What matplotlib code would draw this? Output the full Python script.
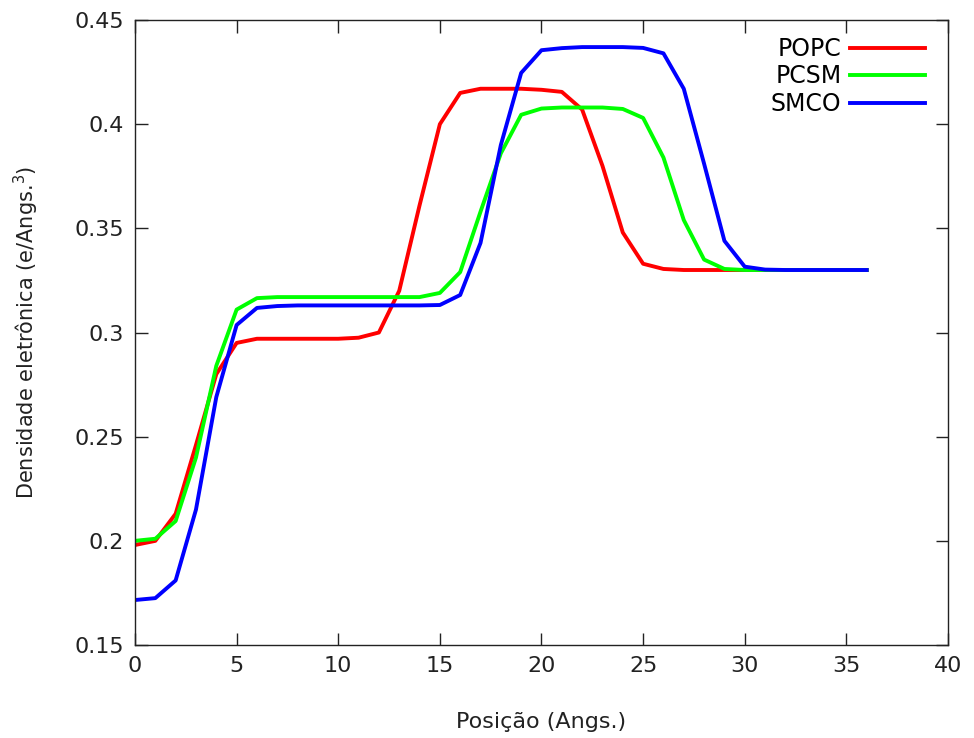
import matplotlib
matplotlib.use("Agg")
import matplotlib.pyplot as plt
import numpy as np

posicao = np.arange(0, 37)

popc = [0.198, 0.200, 0.213, 0.246, 0.280, 0.295, 0.297, 0.297, 0.297, 0.297,
        0.297, 0.2975, 0.300, 0.320, 0.361, 0.400, 0.415, 0.417, 0.417, 0.417,
        0.4165, 0.4155, 0.407, 0.380, 0.348, 0.333, 0.3305, 0.330, 0.330, 0.330,
        0.330, 0.330, 0.330, 0.330, 0.330, 0.330, 0.330]
pcsm = [0.200, 0.201, 0.2095, 0.240, 0.284, 0.311, 0.3165, 0.317, 0.317, 0.317,
        0.317, 0.317, 0.317, 0.317, 0.317, 0.319, 0.329, 0.358, 0.386, 0.4045,
        0.4075, 0.408, 0.408, 0.408, 0.4073, 0.403, 0.384, 0.354, 0.335, 0.3305,
        0.330, 0.330, 0.330, 0.330, 0.330, 0.330, 0.330]
smco = [0.1716, 0.1725, 0.181, 0.215, 0.269, 0.3036, 0.3118, 0.3127, 0.313, 0.313,
        0.313, 0.313, 0.313, 0.313, 0.313, 0.3132, 0.318, 0.343, 0.390, 0.4246,
        0.4355, 0.4365, 0.437, 0.437, 0.437, 0.4366, 0.434, 0.417, 0.381, 0.344,
        0.3316, 0.3302, 0.330, 0.330, 0.330, 0.330, 0.330]

fig = plt.figure(figsize=(9.74, 7.38), dpi=100)
ax = fig.add_axes([0.1386, 0.126, 0.8347, 0.8469])

ax.plot(posicao, popc, color="#ff0000", linewidth=2.8, label="POPC")
ax.plot(posicao, pcsm, color="#00ff00", linewidth=2.8, label="PCSM")
ax.plot(posicao, smco, color="#0000ff", linewidth=2.8, label="SMCO")

ax.set_xlim(0, 40)
ax.set_ylim(0.15, 0.45)
ax.set_xticks(range(0, 41, 5))
ax.set_yticks([0.15, 0.2, 0.25, 0.3, 0.35, 0.4, 0.45])
ax.set_yticklabels(["0.15", "0.2", "0.25", "0.3", "0.35", "0.4", "0.45"])
ax.tick_params(direction="in", top=True, right=True, length=9, width=1,
               labelsize=16, pad=8, colors="#222222")
for s in ax.spines.values():
    s.set_linewidth(1)
    s.set_color("#222222")

ax.set_xlabel("Posição (Angs.)", fontsize=16, labelpad=26, color="#222222")
ax.set_ylabel("Densidade eletrônica (e/Angs.$^3$)", fontsize=15, labelpad=24,
              color="#222222")

ax.legend(loc="upper right", bbox_to_anchor=(0.998, 1.007), frameon=False,
          markerfirst=False, fontsize=17, handlelength=3.2, handletextpad=0.35,
          labelspacing=0.15)

fig.savefig("out.png", dpi=100)
